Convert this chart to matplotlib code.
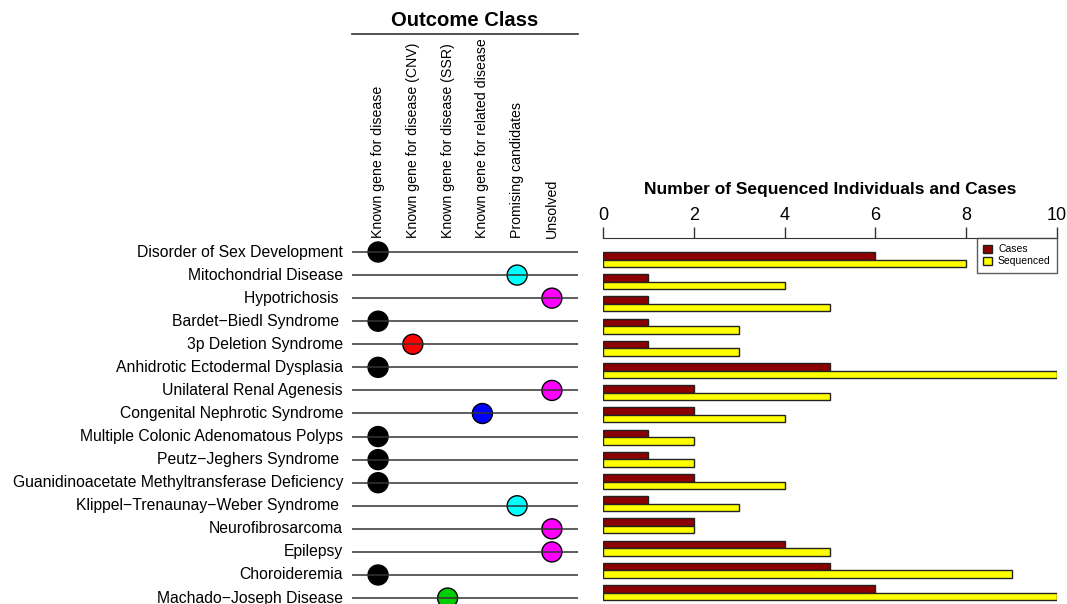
import matplotlib
matplotlib.use("Agg")
import matplotlib.pyplot as plt
from matplotlib.patches import Patch
import numpy as np

plt.rcParams['font.family'] = ['Liberation Sans', 'DejaVu Sans']

diseases = [
    "Disorder of Sex Development",
    "Mitochondrial Disease",
    "Hypotrichosis ",
    "Bardet\u2212Biedl Syndrome ",
    "3p Deletion Syndrome",
    "Anhidrotic Ectodermal Dysplasia",
    "Unilateral Renal Agenesis",
    "Congenital Nephrotic Syndrome",
    "Multiple Colonic Adenomatous Polyps",
    "Peutz\u2212Jeghers Syndrome ",
    "Guanidinoacetate Methyltransferase Deficiency",
    "Klippel\u2212Trenaunay\u2212Weber Syndrome ",
    "Neurofibrosarcoma",
    "Epilepsy",
    "Choroideremia",
    "Machado\u2212Joseph Disease",
]
outcome_classes = [
    "Known gene for disease",
    "Known gene for disease (CNV)",
    "Known gene for disease (SSR)",
    "Known gene for related disease",
    "Promising candidates",
    "Unsolved",
]
class_colors = ["#000000", "#FF0000", "#00CD00", "#0000FF", "#00FFFF", "#FF00FF"]
outcome = [0, 4, 5, 0, 1, 0, 5, 3, 0, 0, 0, 4, 5, 5, 0, 2]
cases = [6, 1, 1, 1, 1, 5, 2, 2, 1, 1, 2, 1, 2, 4, 5, 6]
sequenced = [8, 4, 5, 3, 3, 10, 5, 4, 2, 2, 4, 3, 2, 5, 9, 10]

W, H = 1067, 604
fig = plt.figure(figsize=(W / 100, H / 100), dpi=100)

# ---------- left panel ----------
row0, rowstep = 252.0, 23.07
axL = fig.add_axes([352 / W, 0, 226 / W, 1])
axL.set_xlim(-0.75, 5.75)
axL.set_ylim((H - row0) / rowstep, -row0 / rowstep)
axL.axis("off")
n = len(diseases)
rows = np.arange(n)
for i in rows:
    axL.axhline(i, color="#333333", lw=1.1, zorder=4)
    axL.text(-0.75 - 9 / 34.8, i, diseases[i], ha="right", va="center",
             fontsize=11.3, clip_on=False)
axL.scatter(outcome, rows, s=14.4 ** 2, c=[class_colors[k] for k in outcome],
            edgecolors="black", linewidths=1, zorder=3, clip_on=False)
for k, lab in enumerate(outcome_classes):
    axL.text(k, (238 - row0) / rowstep, lab, rotation=90, ha="center",
             va="bottom", fontsize=10.2)
axL.plot([-0.75, 5.75], [(34 - row0) / rowstep] * 2, color="#333333", lw=1.2,
         clip_on=False)
axL.text(2.5, (20 - row0) / rowstep, "Outcome Class", ha="center", va="center",
         fontsize=14.6, fontweight="bold")

# ---------- right panel ----------
top_px, c0, step = 238.0, 259.5, 22.2
axR = fig.add_axes([603 / W, 0, 454 / W, 1 - top_px / H])
axR.set_xlim(0, 10)
axR.set_ylim((H - c0) / step, -(c0 - top_px) / step)
hb = 0.34
axR.barh(rows - hb / 2, cases, height=hb, color="#8B0000",
         edgecolor="#222222", linewidth=1, label="Cases")
axR.barh(rows + hb / 2, sequenced, height=hb, color="#FFFF00",
         edgecolor="#222222", linewidth=1, label="Sequenced")
for s in ["left", "right", "bottom"]:
    axR.spines[s].set_visible(False)
axR.spines["top"].set_bounds(0, 10)
axR.spines["top"].set_color("#333333")
axR.xaxis.tick_top()
axR.set_xticks([0, 2, 4, 6, 8, 10])
axR.tick_params(axis="x", direction="out", length=8, width=1,
                color="#333333", labelsize=13, pad=2)
axR.set_yticks([])
axR.set_title("Number of Sequenced Individuals and Cases", fontsize=12.5,
              fontweight="bold", pad=32)
leg = axR.legend(handles=[Patch(facecolor="#8B0000", edgecolor="#222222"),
                          Patch(facecolor="#FFFF00", edgecolor="#222222")],
                 labels=["Cases", "Sequenced"], loc="upper right",
                 fontsize=7.5, frameon=True, fancybox=False,
                 borderaxespad=0, handlelength=0.8, handleheight=0.8,
                 handletextpad=0.6, borderpad=0.6, labelspacing=0.2)
leg.get_frame().set_edgecolor("#333333")
leg.get_frame().set_linewidth(1)

fig.savefig("out.png", dpi=100)
